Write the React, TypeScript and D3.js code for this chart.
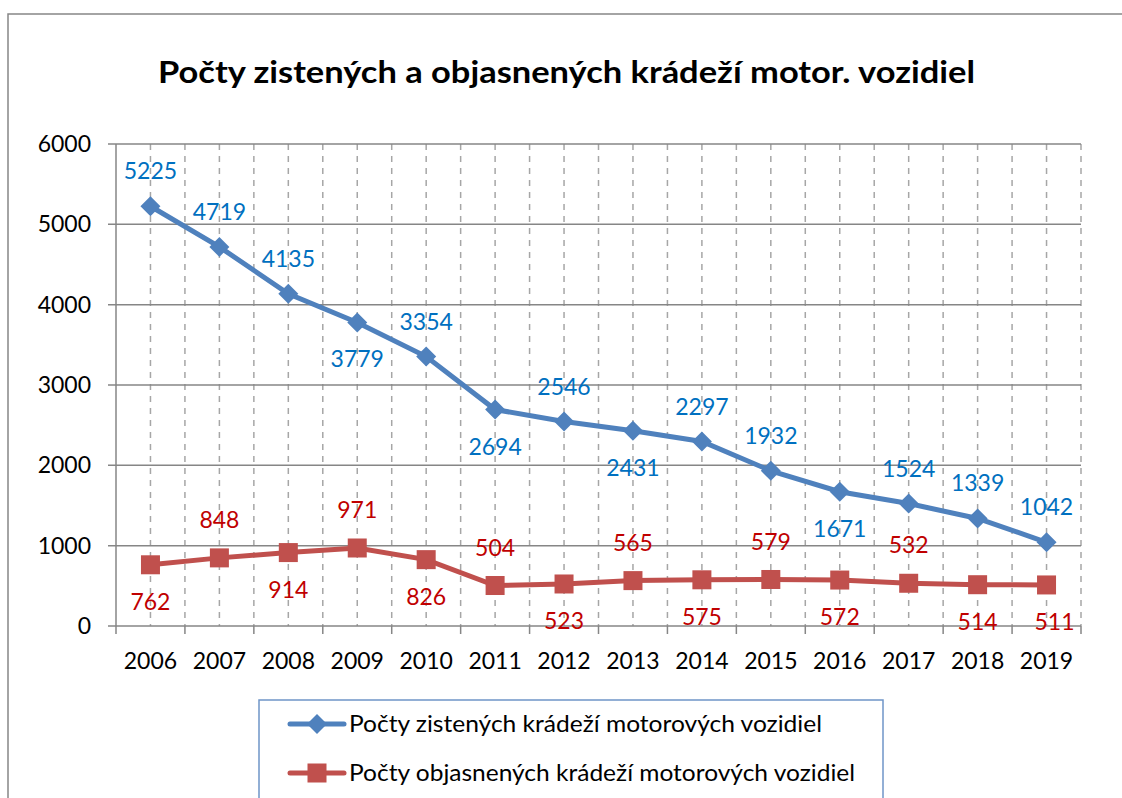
import React from "react";
import * as d3 from "d3";

const years = ["2006","2007","2008","2009","2010","2011","2012","2013","2014","2015","2016","2017","2018","2019"];
const detected = [5225,4719,4135,3779,3354,2694,2546,2431,2297,1932,1671,1524,1339,1042];
const solved = [762,848,914,971,826,504,523,565,575,579,572,532,514,511];
const detectedLabelPos = ["a","a","a","b","a","b","a","b","a","a","b","a","a","a"];
const solvedLabelPos = ["b","a","b","a","b","a","b","a","b","a","b","a","b","b"];
const yTicks = [0,1000,2000,3000,4000,5000,6000];
const title = "Počty zistených a objasnených krádeží motor. vozidiel";
const seriesNames = ["Počty zistených krádeží motorových vozidiel", "Počty objasnených krádeží motorových vozidiel"];

const W = 1122, H = 798;
const left = 116, right = 1081, top = 144, bottom = 626;
const FONT = "Lato, 'Open Sans', sans-serif";
const BLUE = "#4f81bd", RED = "#c0504d";
const BLUE_T = "#0070c0", RED_T = "#c00000";
const GRID = "#868686";

export default function App() {
  const x = d3.scaleBand<string>().domain(years).range([left, right]);
  const y = d3.scaleLinear().domain([0, 6000]).range([bottom, top]);
  const cx = (yr: string) => (x(yr) as number) + x.bandwidth() / 2;
  const line = d3.line<number>().x((_, i) => cx(years[i])).y(v => y(v));
  const halfLines: number[] = [];
  years.forEach(yr => { halfLines.push(cx(yr)); halfLines.push((x(yr) as number) + x.bandwidth()); });
  const diamond = (s: number) => `M0,${-s}L${s},0L0,${s}L${-s},0Z`;

  return (
    <svg width={W} height={H} style={{ position: "absolute", left: 0, top: 0, background: "#fff" }} fontFamily={FONT}>
      <rect x={0} y={0} width={W} height={H} fill="#fff" />
      <rect x={8} y={14} width={1130} height={800} fill="none" stroke={GRID} strokeWidth={1.5} />
      <text x={158} y={83} fontSize={31} fontWeight="bold" fill="#000" textLength={817} lengthAdjust="spacingAndGlyphs">{title}</text>

      {halfLines.map((v, i) => (
        <line key={"v" + i} x1={v} x2={v} y1={top} y2={bottom} stroke="#a6a6a6" strokeWidth={1.5} strokeDasharray="6,6" />
      ))}
      {yTicks.map(t => (
        <g key={"y" + t}>
          <line x1={left - 8} x2={right} y1={y(t)} y2={y(t)} stroke={GRID} strokeWidth={1.5} />
          <text x={91} y={y(t)} dy="0.35em" textAnchor="end" fontSize={23} fill="#000">{t}</text>
        </g>
      ))}
      <line x1={left} x2={left} y1={top} y2={bottom + 8} stroke={GRID} strokeWidth={1.5} />
      {years.map(yr => (
        <g key={"x" + yr}>
          <line x1={(x(yr) as number) + x.bandwidth()} x2={(x(yr) as number) + x.bandwidth()} y1={bottom} y2={bottom + 8} stroke={GRID} strokeWidth={1.5} />
          <text x={cx(yr)} y={669} textAnchor="middle" fontSize={23} fill="#000">{yr}</text>
        </g>
      ))}

      <path d={line(detected) || ""} fill="none" stroke={BLUE} strokeWidth={5} />
      <path d={line(solved) || ""} fill="none" stroke={RED} strokeWidth={5} />
      {detected.map((v, i) => (
        <path key={"d" + i} d={diamond(10)} transform={`translate(${cx(years[i])},${y(v)})`} fill={BLUE} />
      ))}
      {solved.map((v, i) => (
        <rect key={"s" + i} x={cx(years[i]) - 9.5} y={y(v) - 9.5} width={19} height={19} fill={RED} />
      ))}
      {detected.map((v, i) => (
        <text key={"dl" + i} x={cx(years[i])} y={y(v) + (detectedLabelPos[i] === "a" ? -35 : 37)} dy="0.35em" textAnchor="middle" fontSize={23} fill={BLUE_T}>{v}</text>
      ))}
      {solved.map((v, i) => (
        <text key={"sl" + i} x={cx(years[i]) + (i === solved.length - 1 ? 8 : 0)} y={y(v) + (solvedLabelPos[i] === "a" ? -38 : 37)} dy="0.35em" textAnchor="middle" fontSize={23} fill={RED_T}>{v}</text>
      ))}

      <rect x={259} y={700} width={624} height={120} fill="#fff" stroke="#6f95c8" strokeWidth={1.5} />
      <line x1={290} x2={344} y1={724} y2={724} stroke={BLUE} strokeWidth={5} strokeLinecap="round" />
      <path d={diamond(10)} transform="translate(317,724)" fill={BLUE} />
      <text x={349} y={724} dy="0.35em" fontSize={23.5} fill="#000" textLength={473} lengthAdjust="spacingAndGlyphs">{seriesNames[0]}</text>
      <line x1={290} x2={344} y1={773} y2={773} stroke={RED} strokeWidth={5} strokeLinecap="round" />
      <rect x={307.5} y={763.5} width={19} height={19} fill={RED} />
      <text x={349} y={773} dy="0.35em" fontSize={23.5} fill="#000" textLength={506} lengthAdjust="spacingAndGlyphs">{seriesNames[1]}</text>
    </svg>
  );
}
